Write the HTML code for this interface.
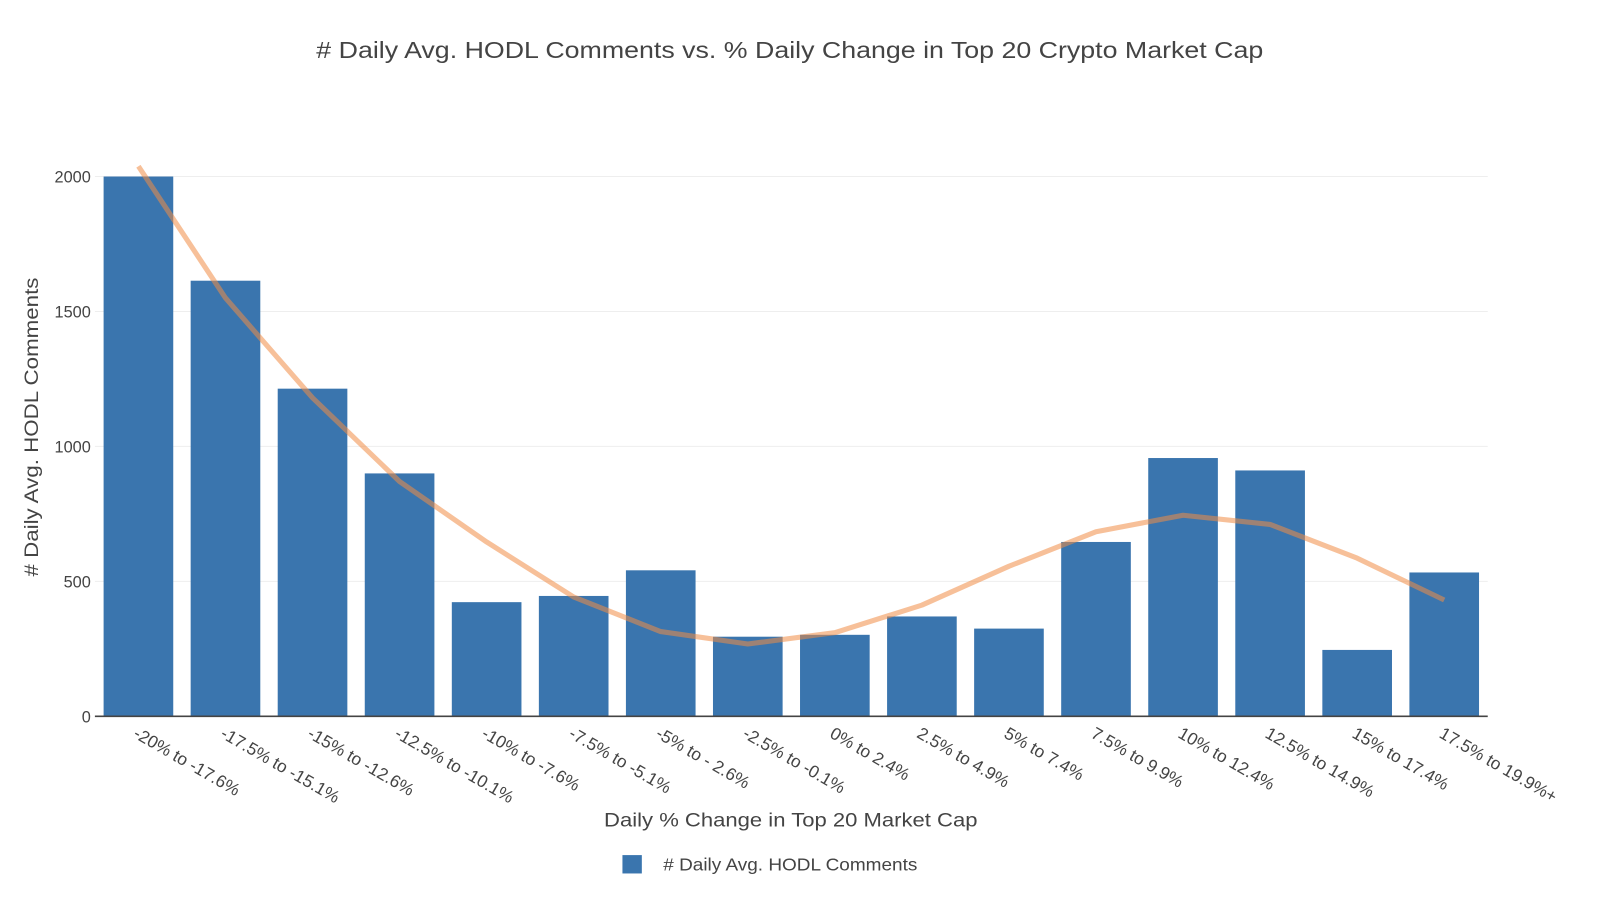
<!DOCTYPE html>
<html><head><meta charset="utf-8"><style>
body{margin:0;background:#fff;font-family:"Liberation Sans",sans-serif;}
svg text{font-family:"Liberation Sans",sans-serif;fill:#444;}
</style></head><body>
<svg id="chart" width="1600" height="901" xmlns="http://www.w3.org/2000/svg">
<g transform="scale(1.0204)">
<text x="310" y="57" font-size="23" textLength="928" lengthAdjust="spacingAndGlyphs">#  Daily Avg. HODL Comments vs. % Daily Change in Top 20 Crypto Market Cap</text>
<g id="grid"></g>
<g id="bars"></g>
<g id="line"></g>
<g id="yaxis"></g>
<g id="xaxis"></g>
<text transform="translate(37,565) rotate(-90)" font-size="19" textLength="293" lengthAdjust="spacingAndGlyphs">#  Daily Avg. HODL Comments</text>
<text x="592" y="810" font-size="19" textLength="366" lengthAdjust="spacingAndGlyphs">Daily % Change in Top 20 Market Cap</text>
<g>
<rect x="610" y="838" width="19" height="18" fill="#3a75ae"/>
<text x="650" y="853" font-size="17" textLength="249" lengthAdjust="spacingAndGlyphs">#  Daily Avg. HODL Comments</text>
</g>
</g>
</svg>
<script>
const categories=["-20% to -17.6%","-17.5% to -15.1%","-15% to -12.6%","-12.5% to -10.1%","-10% to -7.6%","-7.5% to -5.1%","-5% to - 2.6%","-2.5% to -0.1%","0% to 2.4%","2.5% to 4.9%","5% to 7.4%","7.5% to 9.9%","10% to 12.4%","12.5% to 14.9%","15% to 17.4%","17.5% to 19.9%+"];
const barValues=[2000,1614,1214,900,423,446,541,295,302,370,325,646,957,911,246,533];
const trendValues=[2038,1550,1180,870,646,442,314,268,310,412,556,684,745,711,586,431];
const yTicks=[0,500,1000,1500,2000];
const NS="http://www.w3.org/2000/svg";
const x0=93,x1=1458,yBase=702,yTop=173,yMax=2000;
const band=(x1-x0)/categories.length;
function xc(i){return x0+band*(i+0.5);}
function y(v){return yBase-(v/yMax)*(yBase-yTop);}
function mk(t,a,p){const e=document.createElementNS(NS,t);for(const k in a)e.setAttribute(k,a[k]);p.appendChild(e);return e;}
const grid=document.getElementById('grid'),yaxis=document.getElementById('yaxis');
yTicks.forEach(t=>{
  if(t>0){const l=mk('line',{x1:x0,x2:x1,y1:y(t),y2:y(t),stroke:'#eee','stroke-width':1},grid);
  
  }
  const tx=mk('text',{x:x0-4,y:y(t)+6,'text-anchor':'end','font-size':16},yaxis);tx.textContent=t;
  
  
});
const bars=document.getElementById('bars');
barValues.forEach((v,i)=>{
  const w=band*0.8;
  const r=mk('rect',{x:xc(i)-w/2,y:y(v),width:w,height:yBase-y(v),fill:'#3a75ae'},bars);
  
  
});
const base=mk('line',{x1:x0,x2:x1,y1:yBase,y2:yBase,stroke:'#444','stroke-width':1.5},yaxis);


const pts=trendValues.map((v,i)=>xc(i)+','+y(v)).join(' ');
const pl=mk('polyline',{points:pts,fill:'none',stroke:'rgb(240,140,70)','stroke-opacity':0.55,'stroke-width':5,'stroke-linejoin':'round'},document.getElementById('line'));


const xaxis=document.getElementById('xaxis');
categories.forEach((c,i)=>{
  const t=mk('text',{transform:`translate(${xc(i)-6},${yBase+20}) rotate(30)`,'font-size':17},xaxis);
  t.textContent=c;
  
  
});
</script>
</body></html>
